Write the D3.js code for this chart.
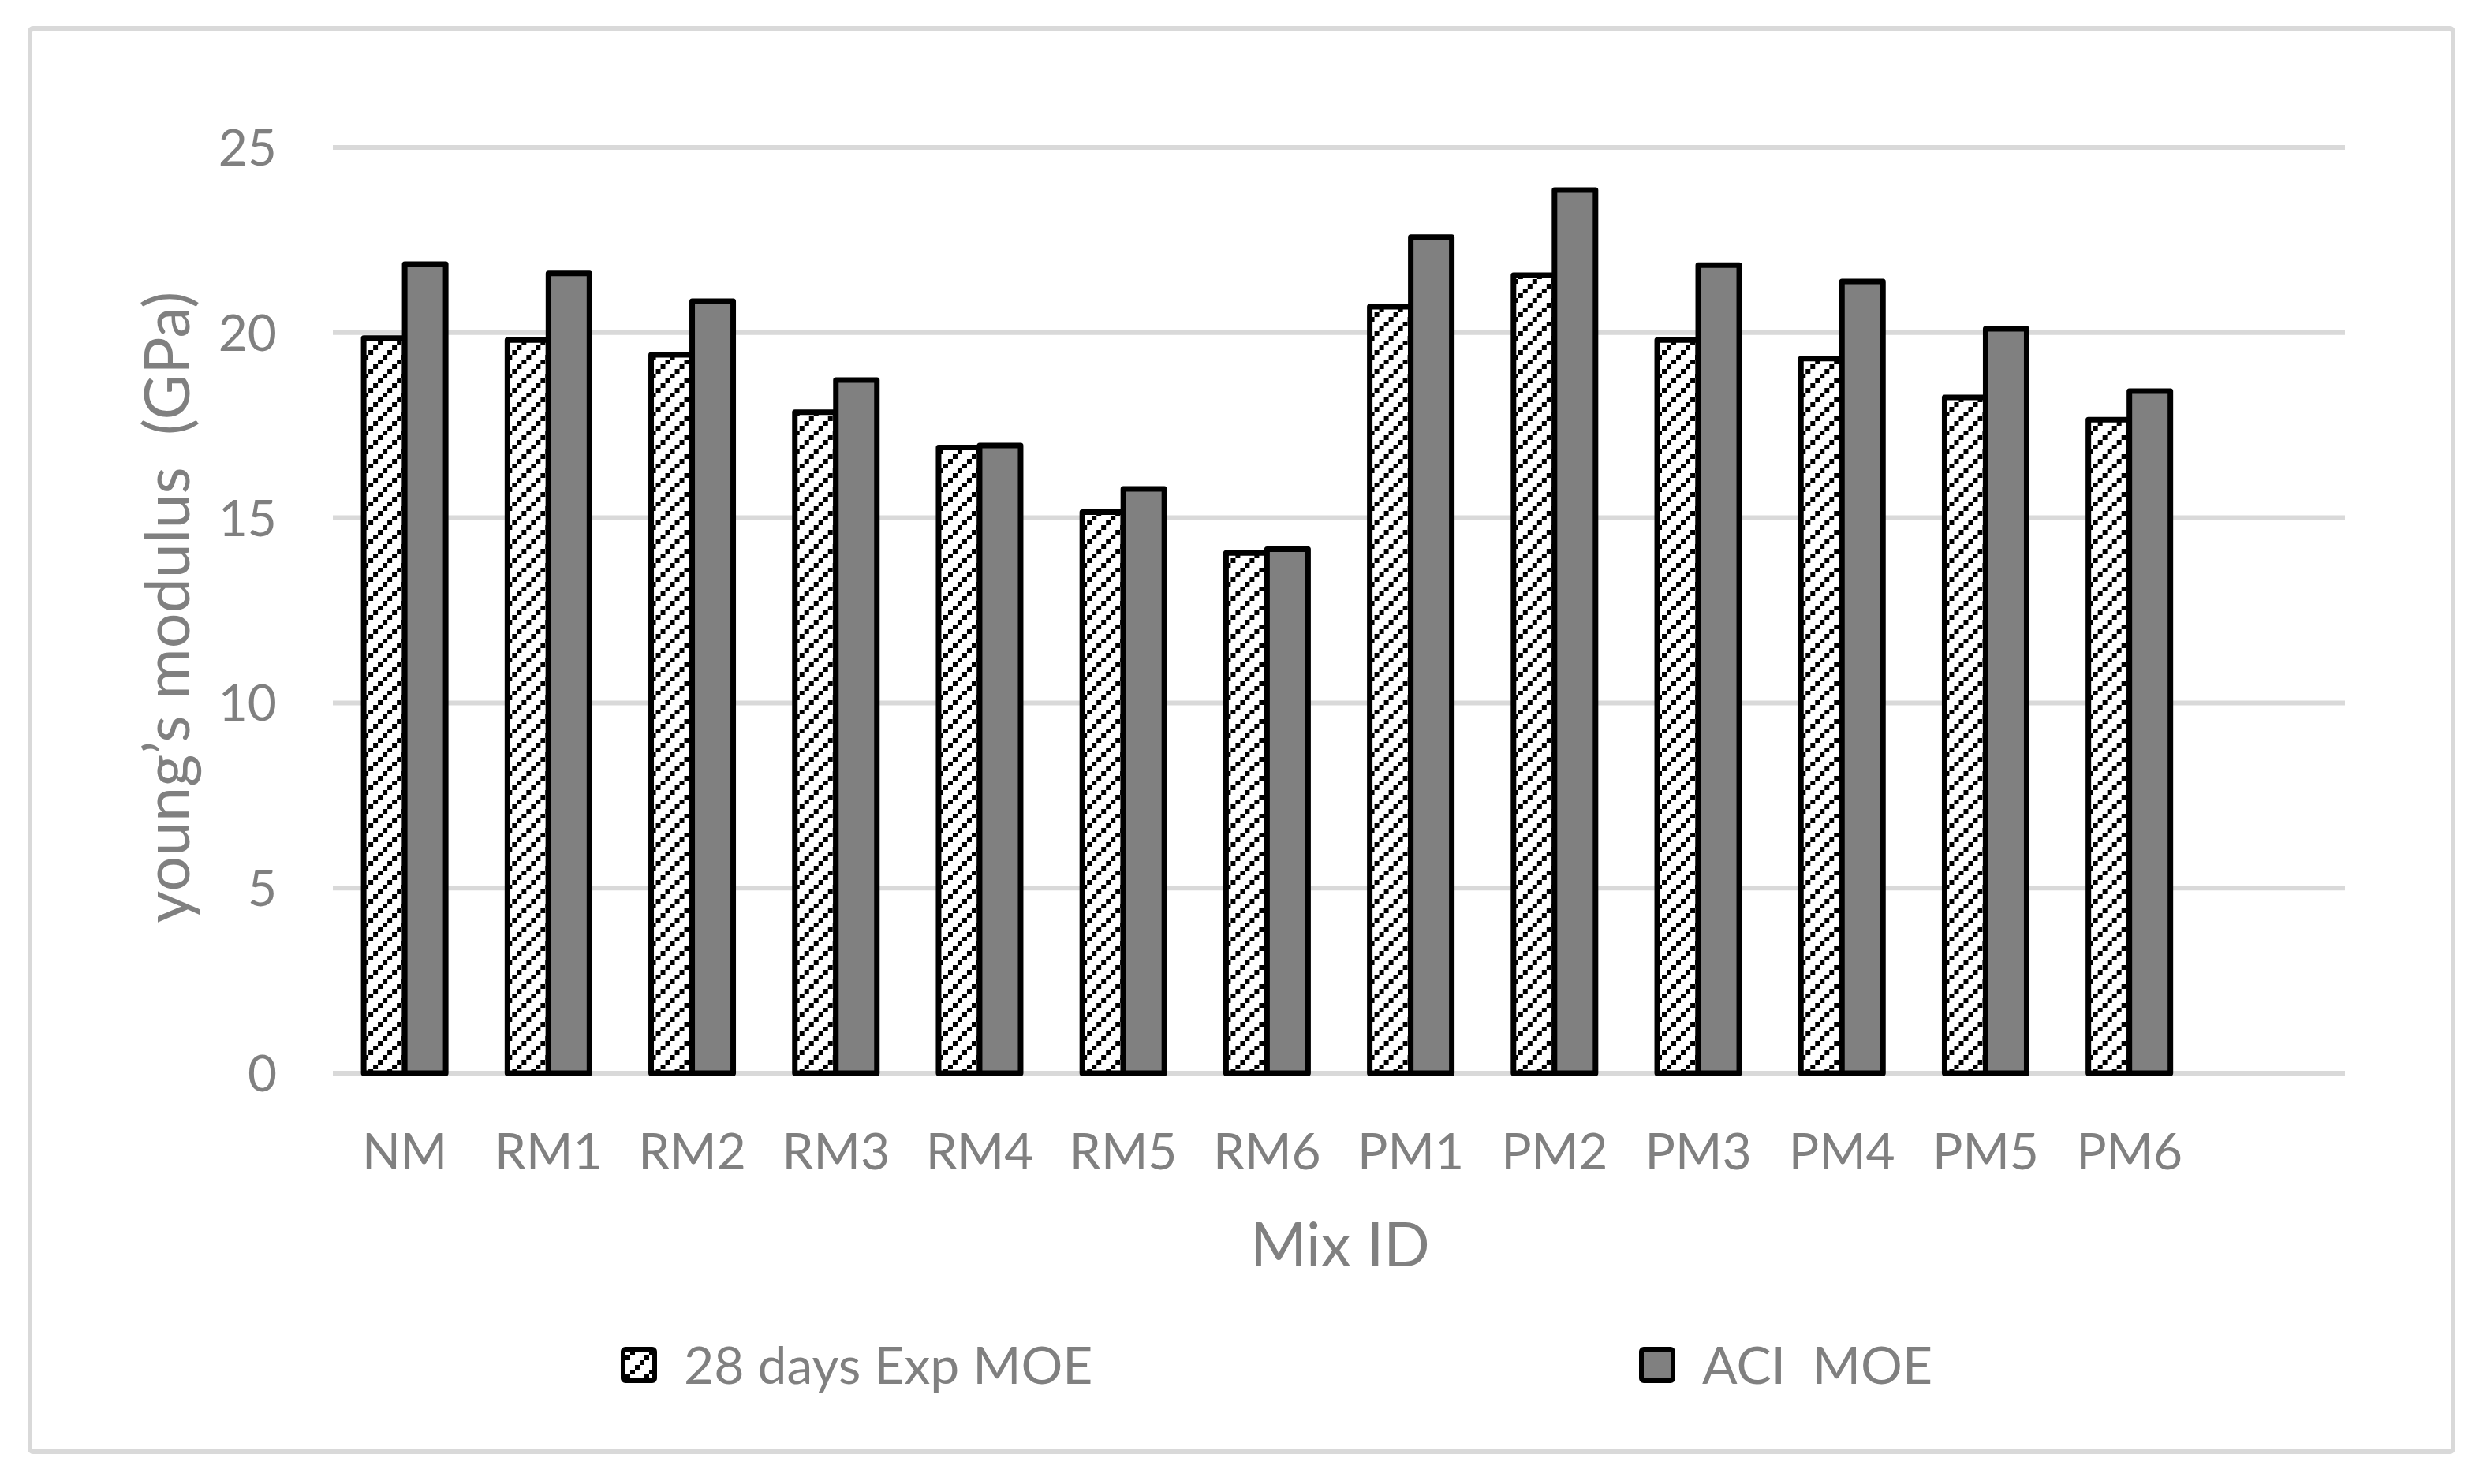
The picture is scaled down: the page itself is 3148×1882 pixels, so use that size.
<!DOCTYPE html>
<html>
<head>
<meta charset="utf-8">
<script src="https://cdn.jsdelivr.net/npm/d3@7"></script>
<style>
  body { margin: 0; background: #fff; }
  text { font-family: Lato, "Open Sans", sans-serif; fill: #808080; white-space: pre; }
</style>
</head>
<body>
<div id="chart"></div>
<script>
// mixes and values (GPa)
var mixes = ["NM", "RM1", "RM2", "RM3", "RM4", "RM5", "RM6", "PM1", "PM2", "PM3", "PM4", "PM5", "PM6"];
var expMOE = [19.85, 19.8, 19.4, 17.85, 16.9, 15.15, 14.05, 20.7, 21.55, 19.8, 19.3, 18.25, 17.65];
var aciMOE = [21.85, 21.6, 20.85, 18.72, 16.95, 15.78, 14.15, 22.58, 23.85, 21.82, 21.38, 20.1, 18.42];
var seriesNames = ["28 days Exp MOE", "ACI  MOE"];
var yTicks = [0, 5, 10, 15, 20, 25];

function drawChart() {
  var svgWidth = 3148;
  var svgHeight = 1882;

  var plot = { left: 422, right: 2973, top: 187, bottom: 1361 };
  // 14 slots on the category axis, the last one is left empty
  var slot = (plot.right - plot.left) / 14;

  var svg = d3.select("#chart")
    .append("svg")
    .attr("width", svgWidth)
    .attr("height", svgHeight);

  var defs = svg.append("defs");
  var pat = defs.append("pattern")
    .attr("id", "hatch")
    .attr("patternUnits", "userSpaceOnUse")
    .attr("width", 24)
    .attr("height", 24);
  pat.append("rect").attr("width", 24).attr("height", 24).attr("fill", "#fff");
  [[18, 0], [12, 6], [6, 12], [0, 18]].forEach(function(p) {
    pat.append("rect")
      .attr("x", p[0]).attr("y", p[1])
      .attr("width", 6).attr("height", 6)
      .attr("fill", "#000");
  });

  // outer frame
  svg.append("rect")
    .attr("x", 38).attr("y", 36)
    .attr("width", 3072).attr("height", 1805)
    .attr("rx", 4)
    .attr("fill", "none")
    .attr("stroke", "#d9d9d9")
    .attr("stroke-width", 6);

  var xScale = d3.scaleBand()
    .domain(mixes)
    .range([plot.left, plot.left + slot * mixes.length]);

  var barW = 52;
  var xInner = d3.scaleBand()
    .domain(seriesNames)
    .range([0, barW * 2]);

  var yScale = d3.scaleLinear()
    .domain([0, 25])
    .range([plot.bottom, plot.top]);

  // gridlines
  svg.append("g")
    .selectAll("line")
    .data(yTicks)
    .enter()
    .append("line")
    .attr("x1", plot.left)
    .attr("x2", plot.right)
    .attr("y1", d => yScale(d))
    .attr("y2", d => yScale(d))
    .attr("stroke", "#d9d9d9")
    .attr("stroke-width", 6);

  // y tick labels
  svg.append("g")
    .selectAll("text")
    .data(yTicks)
    .enter()
    .append("text")
    .attr("x", 351)
    .attr("y", d => yScale(d))
    .attr("dy", "0.36em")
    .attr("text-anchor", "end")
    .attr("font-size", "64px")
    .text(d => d);

  // bars
  var fills = ["url(#hatch)", "#808080"];
  var rows = mixes.map(function(m, i) {
    return { mix: m, values: [expMOE[i], aciMOE[i]] };
  });

  var groups = svg.append("g")
    .selectAll("g")
    .data(rows)
    .enter()
    .append("g")
    .attr("transform", d => `translate(${xScale(d.mix) + xScale.bandwidth() / 2 - barW}, 0)`);

  groups.selectAll("rect")
    .data(d => d.values.map((v, j) => ({ name: seriesNames[j], value: v, j: j })))
    .enter()
    .append("rect")
    .attr("x", d => xInner(d.name))
    .attr("y", d => yScale(d.value))
    .attr("width", xInner.bandwidth())
    .attr("height", d => yScale(0) - yScale(d.value))
    .attr("fill", d => fills[d.j])
    .attr("stroke", "#000")
    .attr("stroke-width", 7)
    .attr("stroke-linejoin", "round");

  // x labels
  svg.append("g")
    .selectAll("text")
    .data(mixes)
    .enter()
    .append("text")
    .attr("x", d => xScale(d) + xScale.bandwidth() / 2)
    .attr("y", 1483)
    .attr("text-anchor", "middle")
    .attr("font-size", "64px")
    .text(d => d);

  // axis titles
  svg.append("text")
    .attr("x", 1699)
    .attr("y", 1606)
    .attr("text-anchor", "middle")
    .attr("font-size", "77px")
    .text("Mix ID");

  svg.append("text")
    .attr("transform", "translate(240, 770) rotate(-90)")
    .attr("text-anchor", "middle")
    .attr("font-size", "79px")
    .text("young\u2019s modulus  (GPa)");

  // legend
  var legendX = [787, 2078];
  var legend = svg.append("g")
    .selectAll("g")
    .data(seriesNames)
    .enter()
    .append("g")
    .attr("transform", (d, i) => `translate(${legendX[i]}, 1731)`);

  legend.append("rect")
    .attr("x", 3).attr("y", -20)
    .attr("width", 40).attr("height", 40)
    .attr("rx", 3)
    .attr("fill", (d, i) => fills[i])
    .attr("stroke", "#000")
    .attr("stroke-width", 6);

  legend.append("text")
    .attr("x", 80)
    .attr("y", 0)
    .attr("dy", "0.36em")
    .attr("font-size", "66px")
    .text(d => d);
}

drawChart();
</script>
</body>
</html>
